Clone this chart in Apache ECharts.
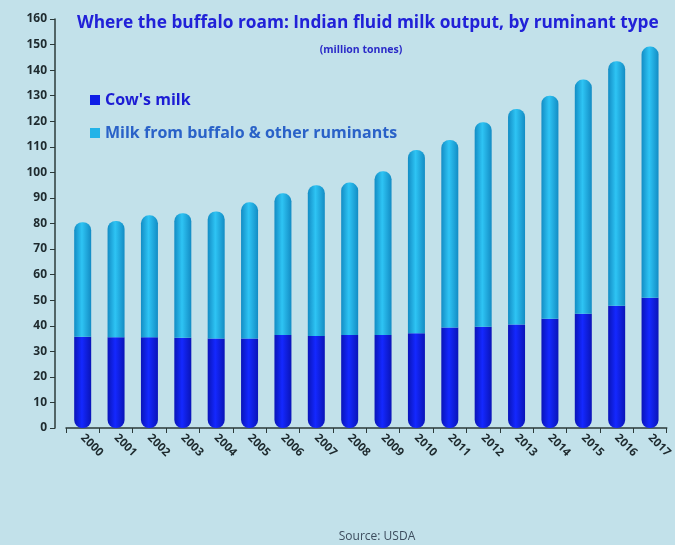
<!DOCTYPE html>
<html><head><meta charset="utf-8">
<script src="https://cdn.jsdelivr.net/npm/echarts@6/dist/echarts.min.js"></script>
<style>html,body{margin:0;padding:0;background:#c2e1ea;} #c{width:675px;height:545px;}</style>
</head><body><div id="c"></div>
<script>
const years = ['2000','2001','2002','2003','2004','2005','2006','2007','2008','2009','2010','2011','2012','2013','2014','2015','2016','2017'];
const cowMilk = [35.7,35.5,35.5,35.3,35.0,35.0,36.4,36.0,36.4,36.4,37.1,39.3,39.6,40.5,42.7,44.7,47.8,51.0];
const otherMilk = [44.8,45.5,47.7,48.7,49.7,53.3,55.4,59.0,59.6,64.0,71.7,73.4,80.0,84.3,87.3,91.6,95.7,98.2];
const yTicks = {min:0, max:160, interval:10};

function cyl(edge, mid){
  return new echarts.graphic.LinearGradient(0,0,1,0,[
    {offset:0,color:edge},{offset:0.45,color:mid},{offset:1,color:edge}]);
}
const chart = echarts.init(document.getElementById('c'), null, {renderer:'canvas'});
chart.setOption({
  backgroundColor:'#c2e1ea',
  animation:false,
  title:[
    {text:'Where the buffalo roam: Indian fluid milk output, by ruminant type', left:72, top:10,
     textStyle:{fontFamily:'Open Sans', fontWeight:'bold', fontSize:17.3, color:'#2121d8'}},
    {text:'(million tonnes)', left:356, top:40, textAlign:'center',
     textStyle:{fontFamily:'Open Sans', fontWeight:'bold', fontSize:10.5, color:'#2a2ac8'}},
    {text:'Source: USDA', left:372, top:526, textAlign:'center',
     textStyle:{fontFamily:'Open Sans', fontWeight:'normal', fontSize:12, color:'#3d4d5e'}}
  ],
  legend:{
    orient:'vertical', left:85, top:87, itemWidth:10, itemHeight:10, itemGap:17,
    data:[
      {name:"Cow's milk", icon:'rect', itemStyle:{color:'#0f1ee6'}, textStyle:{color:'#1c1cd4'}},
      {name:'Milk from buffalo & other ruminants', icon:'rect', itemStyle:{color:'#22b3e8'}, textStyle:{color:'#2a62c8'}}
    ],
    textStyle:{fontFamily:'Open Sans', fontWeight:'bold', fontSize:16}
  },
  grid:{left:66, right:8, top:19, bottom:117},
  xAxis:{
    type:'category', data:years,
    axisLine:{lineStyle:{color:'#2b3a3a', width:1.5}},
    axisTick:{show:true, alignWithLabel:false, length:5, lineStyle:{color:'#2b3a3a'}},
    axisLabel:{rotate:-45, interval:0, fontFamily:'Open Sans', fontWeight:'bold', fontSize:11.5, color:'#1e2a2e', margin:8}
  },
  yAxis:{
    type:'value', min:yTicks.min, max:yTicks.max, interval:yTicks.interval, offset:11,
    axisLine:{show:true, lineStyle:{color:'#2b3a3a', width:1.5}},
    axisTick:{show:true, length:5, lineStyle:{color:'#2b3a3a'}},
    splitLine:{show:false},
    axisLabel:{fontFamily:'Open Sans', fontWeight:'bold', fontSize:12, color:'#1e2a2e', margin:8}
  },
  series:[
    {name:"Cow's milk", type:'bar', stack:'milk', data:cowMilk, barWidth:17,
     itemStyle:{color:cyl('#0a14b8','#1428ff'), borderRadius:[0,0,8,8]}},
    {name:'Milk from buffalo & other ruminants', type:'bar', stack:'milk', data:otherMilk, barWidth:17,
     itemStyle:{color:cyl('#138cc4','#2ec4f4'), borderRadius:[8,8,0,0]}}
  ]
});
</script>
</body></html>
